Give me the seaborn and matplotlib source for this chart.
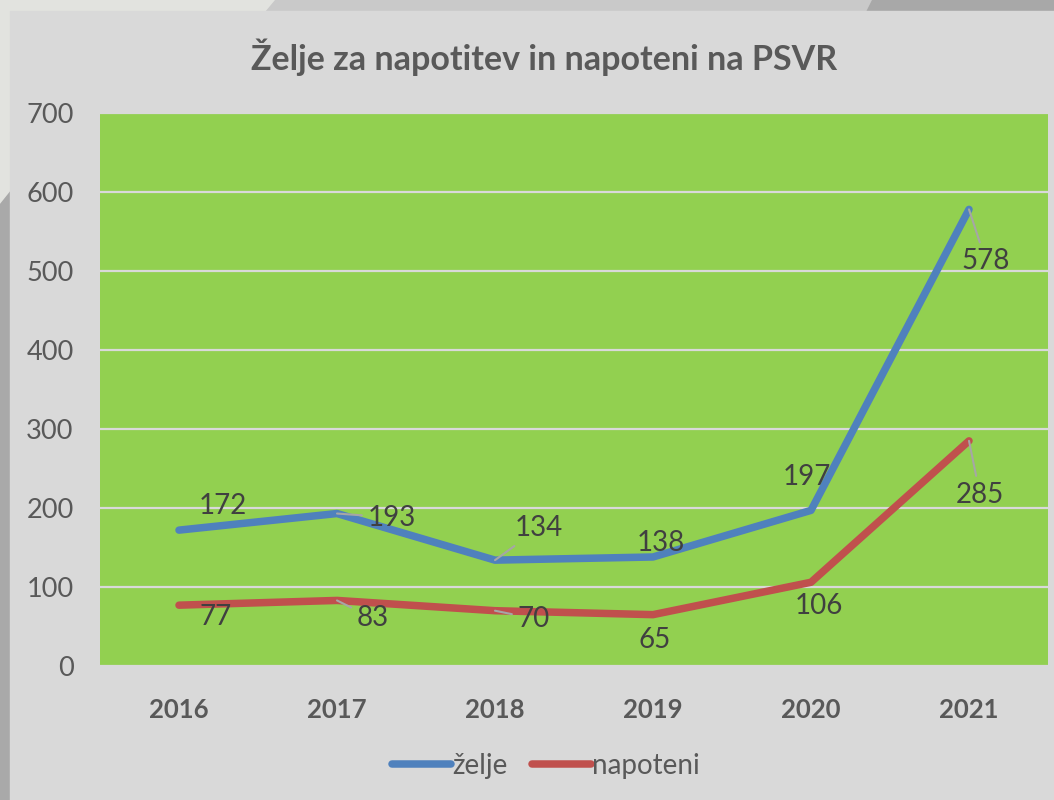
import numpy as np
import pandas as pd
import matplotlib
matplotlib.use("Agg")
import matplotlib.pyplot as plt
from matplotlib.patches import Polygon, Rectangle
from matplotlib.lines import Line2D
import seaborn as sns

years = ["2016", "2017", "2018", "2019", "2020", "2021"]
zelje = [172, 193, 134, 138, 197, 578]
napoteni = [77, 83, 70, 65, 106, 285]
series_names = ["želje", "napoteni"]
colors = ["#4F81BD", "#C0504D"]
title = "Želje za napotitev in napoteni na PSVR"

sns.set_theme(style="white")
plt.rcParams['font.family'] = ['Lato', 'DejaVu Sans']

fig = plt.figure(figsize=(10.54, 8.0), dpi=100)
W, H = 1054, 800

def px(x, y):
    return (x / W, 1 - y / H)

# background decorations
fig.patches.append(Rectangle((0, 0), 1, 1, transform=fig.transFigure, color="#e2e3df", zorder=-10))
fig.patches.append(Polygon([px(0, 205), px(12, 190), px(12, 800), px(0, 800)], closed=True,
                           transform=fig.transFigure, color="#a9a9a9", zorder=-9))
fig.patches.append(Polygon([px(275, 0), px(1054, 0), px(1054, 12), px(265, 12)], closed=True,
                           transform=fig.transFigure, color="#c9c9c9", zorder=-9))
fig.patches.append(Polygon([px(872, 0), px(1054, 0), px(1054, 12), px(866, 12)], closed=True,
                           transform=fig.transFigure, color="#a8a8a8", zorder=-9))
fig.patches.append(Rectangle(px(10, 800), (W - 10) / W, (800 - 11) / H, transform=fig.transFigure,
                             color="#d9d9d9", zorder=-8))

ax = fig.add_axes([100 / W, 134 / H, 948 / W, 553 / H])
ax.set_facecolor("#92d050")

df = pd.DataFrame({
    "x": list(range(len(years))) * 2,
    "value": zelje + napoteni,
    "series": [series_names[0]] * len(years) + [series_names[1]] * len(years),
})
sns.lineplot(data=df, x="x", y="value", hue="series", palette=colors, linewidth=5.4,
             ax=ax, legend=False, solid_capstyle="round", zorder=3)

ax.set_xlim(-0.5, len(years) - 0.5)
ax.set_ylim(0, 700)
ax.set_yticks(range(0, 701, 100))
ax.set_xticks(range(len(years)))
ax.set_xticklabels(years, fontweight="bold")
ax.tick_params(axis="y", labelsize=19.5, colors="#595959", length=0, pad=19)
ax.tick_params(axis="x", labelsize=18.5, colors="#595959", length=0, pad=23)
ax.set_xlabel("")
ax.set_ylabel("")
for s in ax.spines.values():
    s.set_visible(False)
ax.grid(axis="y", color="#d9d9d9", linewidth=1.6)
ax.grid(axis="x", visible=False)
ax.set_axisbelow(True)

# data labels (offsets in pixels)
offs_z = [(44, 24), (55, -4), (44, 32), (8, 14), (-4, 33), (17, -52)]
lead_z = [False, True, True, False, False, True]
offs_n = [(37, -12), (36, -18), (39, -8), (2, -25), (8, -24), (11, -54)]
lead_n = [False, True, True, False, False, True]
for vals, offs, leads in [(zelje, offs_z, lead_z), (napoteni, offs_n, lead_n)]:
    for i, v in enumerate(vals):
        kw = {}
        if leads[i]:
            kw["arrowprops"] = dict(arrowstyle="-", color="#a6a6a6", lw=1.5, shrinkA=2, shrinkB=0)
        ax.annotate(str(v), xy=(i, v), xytext=offs[i], textcoords="offset pixels",
                    ha="center", va="center", fontsize=20, color="#404040", zorder=5, **kw)

fig.text(544 / W, 1 - 57 / H, title, ha="center", va="center", fontsize=24.5,
         fontweight="bold", color="#595959")

handles = [Line2D([0], [0], color=c, lw=5.4, solid_capstyle="round") for c in colors]
fig.legend(handles, series_names, loc="center", bbox_to_anchor=(546 / W, 34 / H), ncol=2,
           frameon=False, fontsize=20, handlelength=2.1, handletextpad=0.05, columnspacing=0.9,
           labelcolor="#595959")

fig.savefig("out.png", dpi=100, facecolor=fig.get_facecolor())
